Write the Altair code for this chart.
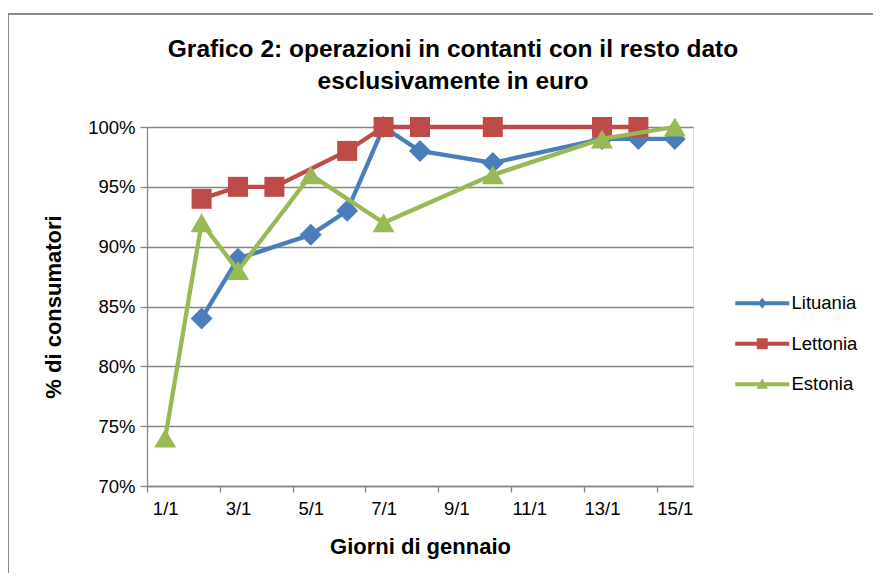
import altair as alt
import pandas as pd

# ---- data ----
serie = ["Lituania", "Lettonia", "Estonia"]
colori = ["#4A7EBB", "#BE4B48", "#98B954"]
forme = ["diamond", "square", "triangle-up"]
dimensioni = [480, 400, 480]

giorni_lit = [2, 3, 5, 6, 7, 8, 10, 13, 14, 15]
valori_lit = [84, 89, 91, 93, 100, 98, 97, 99, 99, 99]
giorni_let = [2, 3, 4, 6, 7, 8, 10, 13, 14]
valori_let = [94, 95, 95, 98, 100, 100, 100, 100, 100]
giorni_est = [1, 2, 3, 5, 7, 10, 13, 15]
valori_est = [74, 92, 88, 96, 92, 96, 99, 100]

tick_y = [0.70, 0.75, 0.80, 0.85, 0.90, 0.95, 1.00]
tick_x = [1, 3, 5, 7, 9, 11, 13, 15]

titolo = ["Grafico 2: operazioni in contanti con il resto dato",
          "esclusivamente in euro"]

rows = []
for s, gg, vv in zip(serie, [giorni_lit, giorni_let, giorni_est],
                     [valori_lit, valori_let, valori_est]):
    for g, v in zip(gg, vv):
        rows.append({"serie": s, "giorno": g, "valore": v / 100})
df = pd.DataFrame(rows)

FONT = "Liberation Sans"
GRAY = "#868686"
W, H = 546, 359

X = alt.X("giorno:Q",
          scale=alt.Scale(domain=[0.5, 15.5], nice=False, zero=False),
          axis=alt.Axis(values=tick_x, labelExpr="datum.value + '/1'",
                        grid=False, domainColor=GRAY, domainWidth=1.3,
                        tickColor=GRAY, tickWidth=1.3, tickSize=6,
                        tickOffset=-W / 30, labelOffset=W / 30,
                        labelFont=FONT, labelFontSize=18.5, labelColor="#000",
                        labelPadding=7, labelFlush=False, labelOverlap=False,
                        titleFont=FONT, titleFontSize=22, titleFontWeight="bold",
                        titleColor="#000", titlePadding=19),
          title="Giorni di gennaio")
Y = alt.Y("valore:Q",
          scale=alt.Scale(domain=[0.7, 1.0], nice=False, zero=False),
          axis=alt.Axis(values=tick_y, format=".0%", grid=True,
                        gridColor=GRAY, gridWidth=1.3,
                        domainColor=GRAY, domainWidth=1.3,
                        tickColor=GRAY, tickWidth=1.3, tickSize=7,
                        labelFont=FONT, labelFontSize=18.5, labelColor="#000",
                        labelPadding=5, labelFlush=False,
                        titleFont=FONT, titleFontSize=22, titleFontWeight="bold",
                        titleColor="#000", titlePadding=22),
          title="% di consumatori")

# decorative outer frame
frame = alt.Chart(pd.DataFrame({"k": [0]})).mark_rect(
    fillOpacity=0, stroke="#8c8c8c", strokeWidth=2
).encode(x=alt.value(-139), x2=alt.value(760),
         y=alt.value(-113), y2=alt.value(480))

layers = [frame]
for s, c, f, sz in zip(serie, colori, forme, dimensioni):
    base = alt.Chart(df).transform_filter(alt.datum.serie == s)
    layers.append(base.mark_line(color=c, strokeWidth=4.3).encode(x=X, y=Y))
    layers.append(base.mark_point(shape=f, filled=True, size=sz, color=c,
                                  opacity=1, strokeWidth=0).encode(x=X, y=Y))

# legend symbols: line + marker as custom paths
line_path = "M-5.4,-0.4H5.4V0.4H-5.4Z"
legend_paths = [
    line_path + "M0,-1.1L0.85,0L0,1.1L-0.85,0Z",
    line_path + "M-1.1,-1.1H1.1V1.1H-1.1Z",
    line_path + "M0,-1.2L1.15,0.9H-1.15Z",
]
leg = alt.Legend(orient="none", legendX=606, legendY=167, padding=0,
                 symbolSize=100, symbolStrokeWidth=0, labelOffset=20,
                 labelFont=FONT, labelFontSize=18.5, labelColor="#000",
                 rowPadding=21.5)
legend_layer = alt.Chart(df).transform_filter("false").mark_point(
    filled=True, opacity=1, strokeWidth=0
).encode(
    x=X, y=Y,
    color=alt.Color("serie:N", scale=alt.Scale(domain=serie, range=colori),
                    legend=leg, title=None),
    shape=alt.Shape("serie:N", scale=alt.Scale(domain=serie, range=legend_paths),
                    legend=leg, title=None),
)
layers.append(legend_layer)

chart = alt.layer(*layers).properties(
    width=W, height=H,
    autosize=alt.AutoSizeParams(type="none"),
    padding={"left": 139, "top": 119, "right": 180, "bottom": 87},
    title=alt.TitleParams(text=titolo, font=FONT, fontSize=24.5,
                          fontWeight="bold", color="#000", anchor="middle",
                          frame="group", dx=33, offset=-81, lineHeight=32),
).configure_view(stroke=None).configure(background="white")

chart.save("out.html", embed_options={"renderer": "svg", "actions": False})
